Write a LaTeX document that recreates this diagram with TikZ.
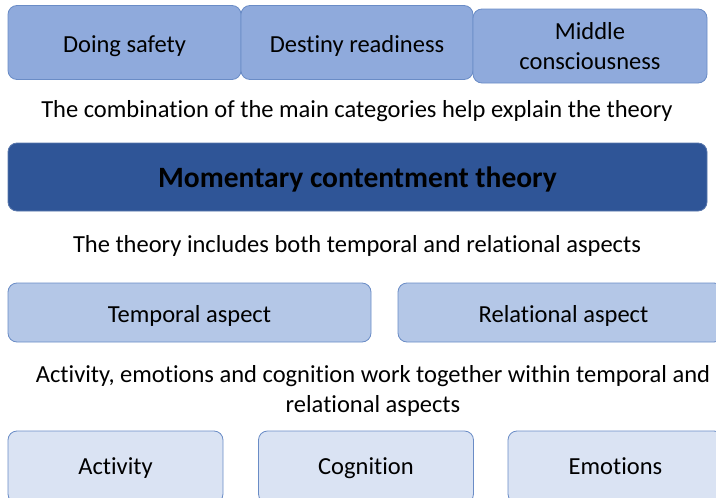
\documentclass[tikz,border=0pt]{standalone}
\usepackage{fontspec}
\setmainfont{Carlito}[Ligatures=NoCommon]
\usetikzlibrary{positioning}
\definecolor{catfill}{HTML}{8FAADC}
\definecolor{aspfill}{HTML}{B4C7E7}
\definecolor{elemfill}{HTML}{DAE3F3}
\definecolor{theofill}{HTML}{2F5597}
\definecolor{boxline}{HTML}{6A8CC6}
\begin{document}
\begin{tikzpicture}[x=1pt,y=-1pt,
  box/.style={draw=boxline,line width=0.8pt,rounded corners=9pt,align=center,inner sep=0pt,font=\fontsize{24.5}{30}\selectfont},
  line/.style={text height=19pt,text depth=0pt},
  cat/.style={box,fill=catfill,minimum height=74pt},
  asp/.style={box,line,fill=aspfill,minimum height=59pt},
  elem/.style={box,fill=elemfill,minimum height=72pt,minimum width=215pt,text height=14.6pt,text depth=0pt},
  say/.style={align=center,inner sep=0pt,font=\fontsize{24.5}{30}\selectfont}]
\useasboundingbox(0,0)rectangle(716,498);
\clip(0,0)rectangle(716,498);
\node[cat,line,minimum width=233pt](ds)at(124.5,42.5){Doing safety};
\node[cat,line,minimum width=232pt](dr)at(357,42.5){Destiny readiness};
\node[cat,minimum width=234pt](mc)at(590,46){Middle\\consciousness};
\node[say,anchor=base](s1)at(357,117.3){The combination of the main categories help explain the theory};
\node[box,fill=theofill,draw=theofill!80!white,minimum width=699pt,minimum height=68pt,text height=20.6pt,text depth=0pt,font=\fontsize{29.5}{30}\selectfont\bfseries](mt)at(357.5,177){Momentary contentment theory};
\node[say,anchor=base](s2)at(357,252.3){The theory includes both temporal and relational aspects};
\node[asp,minimum width=363pt](ta)at(189.5,312.5){Temporal aspect};
\node[asp,minimum width=325pt](ra)at(560.5,312.5){\hspace*{6pt}Relational aspect};
\node[say](s3)at(373,391){Activity, emotions and cognition work together within temporal and\\relational aspects};
\node[elem](ac)at(115.5,467){Activity};
\node[elem](co)at(366,467){Cognition};
\node[elem](em)at(615.5,467){Emotions};
\end{tikzpicture}
\end{document}
